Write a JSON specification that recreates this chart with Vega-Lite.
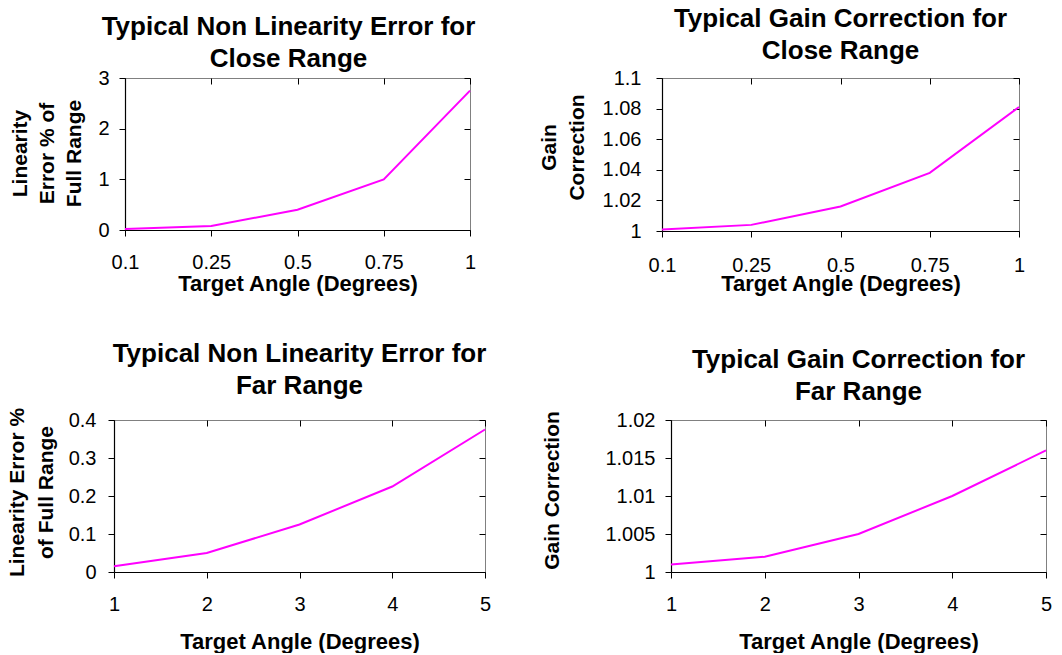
{
  "$schema": "https://vega.github.io/schema/vega-lite/v6.json",
  "padding": {"left": 5, "top": 5, "right": 5, "bottom": 0},
  "background": "white",
  "config": {
    "font": "Liberation Sans",
    "view": {"stroke": "#808080", "strokeWidth": 1},
    "axis": {
      "domainColor": "black", "domainWidth": 1.2, "tickColor": "black", "tickWidth": 1,
      "labelColor": "black", "titleColor": "black",
      "labelFont": "Liberation Sans", "labelFontSize": 20, "labelFontWeight": "normal",
      "titleFont": "Liberation Sans", "titleFontSize": 21, "titleFontWeight": "bold",
      "grid": false, "tickSize": 6
    },
    "axisX": {"labelAngle": 0, "labelOverlap": false, "labelFlush": false, "titleFontSize": 22},
    "title": {"font": "Liberation Sans", "fontSize": 26, "fontWeight": "bold", "color": "black", "lineHeight": 32, "frame": "group", "anchor": "middle"}
  },
  "datasets": {
    "close_err": [
      {"angle": "0.1", "value": 0.02},
      {"angle": "0.25", "value": 0.08},
      {"angle": "0.5", "value": 0.4},
      {"angle": "0.75", "value": 1.0},
      {"angle": "1", "value": 2.75}
    ],
    "close_gain": [
      {"angle": "0.1", "value": 1.001},
      {"angle": "0.25", "value": 1.004},
      {"angle": "0.5", "value": 1.016},
      {"angle": "0.75", "value": 1.038},
      {"angle": "1", "value": 1.081}
    ],
    "far_err": [
      {"angle": "1", "value": 0.015},
      {"angle": "2", "value": 0.05},
      {"angle": "3", "value": 0.125},
      {"angle": "4", "value": 0.225},
      {"angle": "5", "value": 0.375}
    ],
    "far_gain": [
      {"angle": "1", "value": 1.001},
      {"angle": "2", "value": 1.002},
      {"angle": "3", "value": 1.005},
      {"angle": "4", "value": 1.01},
      {"angle": "5", "value": 1.016}
    ]
  },
  "bounds": "full",
  "spacing": 45,
  "vconcat": [
    {
      "bounds": "flush",
      "spacing": 10,
      "hconcat": [
        {"width": 1, "height": 1, "data": {"values": []}, "mark": "point", "view": {"stroke": null}},
        {
          "bounds": "flush",
          "spacing": 192,
          "hconcat": [
            {
              "width": 345, "height": 152,
              "title": {"text": ["Typical Non Linearity Error for", "Close Range"], "offset": -4, "dx": -9},
              "data": {"name": "close_err"},
              "layer": [
                {
                  "mark": {"type": "line", "color": "#FF00FF", "strokeWidth": 2},
                  "encoding": {
                    "x": {"field": "angle", "type": "ordinal", "sort": null, "scale": {"type": "point", "padding": 0},
                          "axis": {"title": "Target Angle (Degrees)", "labelPadding": 16, "titlePadding": 1}},
                    "y": {"field": "value", "type": "quantitative", "scale": {"domain": [0, 3], "nice": false},
                          "axis": {"values": [0, 1, 2, 3], "format": "~g", "title": ["Linearity", "Error % of", "Full Range"], "titleLineHeight": 27, "labelPadding": 10, "titlePadding": 13, "titleY": 75}}
                  }
                },
                {
                  "mark": {"type": "line", "opacity": 0},
                  "encoding": {
                    "x": {"field": "angle", "type": "ordinal", "sort": null, "scale": {"type": "point", "padding": 0},
                          "axis": {"title": null, "labels": false, "domain": false, "tickSize": -6}},
                    "y": {"field": "value", "type": "quantitative",
                          "axis": {"values": [0, 1, 2, 3], "title": null, "labels": false, "domain": false, "tickSize": -6}}
                  }
                }
              ],
              "resolve": {"axis": {"x": "independent", "y": "independent"}}
            },
            {
              "width": 357, "height": 153,
              "title": {"text": ["Typical Gain Correction for", "Close Range"], "offset": 4},
              "data": {"name": "close_gain"},
              "layer": [
                {
                  "mark": {"type": "line", "color": "#FF00FF", "strokeWidth": 2},
                  "encoding": {
                    "x": {"field": "angle", "type": "ordinal", "sort": null, "scale": {"type": "point", "padding": 0},
                          "axis": {"title": "Target Angle (Degrees)", "labelPadding": 18, "titlePadding": -2}},
                    "y": {"field": "value", "type": "quantitative", "scale": {"domain": [1, 1.1], "nice": false},
                          "axis": {"values": [1, 1.02, 1.04, 1.06, 1.08, 1.1], "format": "~g", "title": ["Gain", "Correction"], "titleLineHeight": 28, "labelPadding": 15, "titlePadding": 15, "titleY": 69}}
                  }
                },
                {
                  "mark": {"type": "line", "opacity": 0},
                  "encoding": {
                    "x": {"field": "angle", "type": "ordinal", "sort": null, "scale": {"type": "point", "padding": 0},
                          "axis": {"title": null, "labels": false, "domain": false, "tickSize": -6}},
                    "y": {"field": "value", "type": "quantitative",
                          "axis": {"values": [1, 1.02, 1.04, 1.06, 1.08, 1.1], "title": null, "labels": false, "domain": false, "tickSize": -6}}
                  }
                }
              ],
              "resolve": {"axis": {"x": "independent", "y": "independent"}}
            }
          ]
        }
      ]
    },
    {
      "bounds": "flush",
      "spacing": 186,
      "hconcat": [
        {
          "width": 371, "height": 152,
          "title": {"text": ["Typical Non Linearity Error for", "Far Range"], "offset": 8},
          "data": {"name": "far_err"},
          "layer": [
            {
              "mark": {"type": "line", "color": "#FF00FF", "strokeWidth": 2},
              "encoding": {
                "x": {"field": "angle", "type": "ordinal", "sort": null, "scale": {"type": "point", "padding": 0},
                      "axis": {"title": "Target Angle (Degrees)", "labelPadding": 16, "titlePadding": 17}},
                "y": {"field": "value", "type": "quantitative", "scale": {"domain": [0, 0.4], "nice": false},
                      "axis": {"values": [0, 0.1, 0.2, 0.3, 0.4], "format": "~g", "title": ["Linearity Error %", "of Full Range"], "titleLineHeight": 29, "labelPadding": 12, "titlePadding": 12, "titleY": 72}}
              }
            },
            {
              "mark": {"type": "line", "opacity": 0},
              "encoding": {
                "x": {"field": "angle", "type": "ordinal", "sort": null, "scale": {"type": "point", "padding": 0},
                      "axis": {"title": null, "labels": false, "domain": false, "tickSize": -6}},
                "y": {"field": "value", "type": "quantitative",
                      "axis": {"values": [0, 0.1, 0.2, 0.3, 0.4], "title": null, "labels": false, "domain": false, "tickSize": -6}}
              }
            }
          ],
          "resolve": {"axis": {"x": "independent", "y": "independent"}}
        },
        {
          "width": 375, "height": 152,
          "title": {"text": ["Typical Gain Correction for", "Far Range"], "offset": 5},
          "data": {"name": "far_gain"},
          "layer": [
            {
              "mark": {"type": "line", "color": "#FF00FF", "strokeWidth": 2},
              "encoding": {
                "x": {"field": "angle", "type": "ordinal", "sort": null, "scale": {"type": "point", "padding": 0},
                      "axis": {"title": "Target Angle (Degrees)", "labelPadding": 16, "titlePadding": 17}},
                "y": {"field": "value", "type": "quantitative", "scale": {"domain": [1, 1.02], "nice": false},
                      "axis": {"values": [1, 1.005, 1.01, 1.015, 1.02], "format": "~g", "title": "Gain Correction", "labelPadding": 10, "titlePadding": 42, "titleY": 70}}
              }
            },
            {
              "mark": {"type": "line", "opacity": 0},
              "encoding": {
                "x": {"field": "angle", "type": "ordinal", "sort": null, "scale": {"type": "point", "padding": 0},
                      "axis": {"title": null, "labels": false, "domain": false, "tickSize": -6}},
                "y": {"field": "value", "type": "quantitative",
                      "axis": {"values": [1, 1.005, 1.01, 1.015, 1.02], "title": null, "labels": false, "domain": false, "tickSize": -6}}
              }
            }
          ],
          "resolve": {"axis": {"x": "independent", "y": "independent"}}
        }
      ]
    }
  ]
}
